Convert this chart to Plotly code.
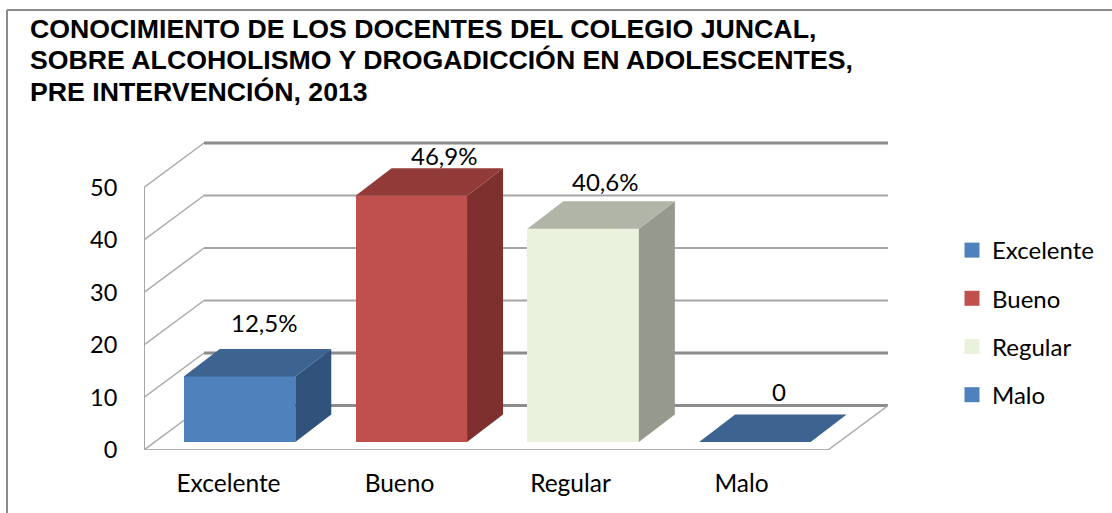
import plotly.graph_objects as go

# ---- data ----
categories = ["Excelente", "Bueno", "Regular", "Malo"]
values = [12.5, 46.9, 40.6, 0]
value_labels = ["12,5%", "46,9%", "40,6%", "0"]
y_ticks = [0, 10, 20, 30, 40, 50]
title_lines = [
    "CONOCIMIENTO DE LOS DOCENTES DEL COLEGIO JUNCAL,",
    "SOBRE ALCOHOLISMO Y DROGADICCIÓN EN ADOLESCENTES,",
    "PRE INTERVENCIÓN, 2013",
]

# ---- styles ----
front_colors = ["#4F81BD", "#C0504D", "#EAF1DD", "#4F81BD"]
top_colors = ["#3D6391", "#923A38", "#B1B5A7", "#3D6391"]
side_colors = ["#31527A", "#7D302E", "#969A8E", "#31527A"]
grid_widths = [3, 3, 2, 2, 2, 3]
grid_colors = ["#8C8C8C", "#8C8C8C", "#A6A6A6", "#A6A6A6", "#A6A6A6", "#8C8C8C"]
text_font = "Lato"
text_size = 24

# ---- page geometry (pixels) ----
W, H = 1112, 513
L, R, T, B = 144, 888, 120, 450
PX_PER_CAT = 171.8
PX_PER_VAL = 5.25
CAT0_PX = 239.5
x_lo = (L - CAT0_PX) / PX_PER_CAT
x_hi = (R - CAT0_PX) / PX_PER_CAT
y_hi = (B - T) / PX_PER_VAL

# 3-D offsets, converted to data units
wall_dx = 60 / PX_PER_CAT
wall_dy = 44.5 / PX_PER_VAL
bar_dx = 36 / PX_PER_CAT
bar_dy = 27.5 / PX_PER_VAL
bar_width = 111.5 / PX_PER_CAT
floor_lift = 8 / PX_PER_VAL
floor_shift = 11 / PX_PER_CAT
label_pitch = 171 / PX_PER_CAT
floor_right = x_hi - wall_dx

positions = list(range(len(categories)))


def path(points):
    return "M" + " L".join(f"{x},{y}" for x, y in points)


def data_line(points, color, width):
    return dict(type="path", xref="x", yref="y", path=path(points), layer="below",
                line=dict(color=color, width=width))


shapes = []
# walls: a receding line and a back line per tick
for tick, lw, lc in zip(y_ticks, grid_widths, grid_colors):
    shapes.append(data_line([(x_lo, tick), (x_lo + wall_dx, tick + wall_dy)], "#ABABAB", 1.5))
    shapes.append(data_line([(x_lo + wall_dx, tick + wall_dy), (x_hi, tick + wall_dy)], lc, lw))
# left wall edge, floor front edge, floor right edge
shapes.append(data_line([(x_lo, y_ticks[0]), (x_lo, y_ticks[-1])], "#A6A6A6", 2))
shapes.append(data_line([(x_lo, 0), (floor_right, 0)], "#B0B0B0", 2))
shapes.append(data_line([(floor_right, 0), (x_hi, wall_dy)], "#ABABAB", 1.5))


# outer chart frame: top and left edges, in paper units
def paper_x(px):
    return (px - L) / (R - L)


def paper_y(px):
    return (B - px) / (B - T)


frame_style = dict(color="#8C8C8C", width=2)
shapes.append(dict(type="line", xref="paper", yref="paper", layer="below", line=frame_style,
                   x0=paper_x(7), x1=paper_x(W), y0=paper_y(10), y1=paper_y(10)))
shapes.append(dict(type="line", xref="paper", yref="paper", layer="below", line=frame_style,
                   x0=paper_x(7), x1=paper_x(7), y0=paper_y(10), y1=paper_y(H)))

fig = go.Figure()

# front faces
fig.add_trace(go.Bar(
    x=positions, y=values, base=[floor_lift] * len(values), width=bar_width,
    marker=dict(color=front_colors, line=dict(width=0)),
    showlegend=False, hoverinfo="skip",
))

# top and side faces, derived from the same values
for i, v in enumerate(values):
    x0 = positions[i] - bar_width / 2
    x1 = positions[i] + bar_width / 2
    y0 = floor_lift
    y1 = floor_lift + v
    if v > 0:
        fig.add_trace(go.Scatter(
            x=[x1, x1 + bar_dx, x1 + bar_dx, x1, x1],
            y=[y0, y0 + bar_dy, y1 + bar_dy, y1, y0],
            mode="lines", fill="toself", fillcolor=side_colors[i],
            line=dict(width=0, color=side_colors[i]),
            showlegend=False, hoverinfo="skip",
        ))
    fig.add_trace(go.Scatter(
        x=[x0, x0 + bar_dx, x1 + bar_dx, x1, x0],
        y=[y1, y1 + bar_dy, y1 + bar_dy, y1, y1],
        mode="lines", fill="toself", fillcolor=top_colors[i],
        line=dict(width=0, color=top_colors[i]),
        showlegend=False, hoverinfo="skip",
    ))

# legend entries
for i, name in enumerate(categories):
    fig.add_trace(go.Scatter(
        x=[None], y=[None], mode="markers", name=name, legendgroup=name,
        marker=dict(symbol="square", size=15, color=front_colors[i]),
    ))

# value labels, anchored to each bar's top face
label_shift = [(6, 26), (15, 13), (4, 20), (6, 23)]
annotations = []
for i, (txt, v) in enumerate(zip(value_labels, values)):
    annotations.append(dict(
        x=positions[i] + bar_dx / 2, y=floor_lift + v + bar_dy,
        xref="x", yref="y", text=txt, showarrow=False,
        xanchor="center", yanchor="middle",
        xshift=label_shift[i][0], yshift=label_shift[i][1],
        font=dict(family=text_font, size=text_size, color="#000000"),
    ))

fig.update_layout(
    width=W, height=H,
    margin=dict(l=L, r=W - R, t=T, b=H - B, pad=0, autoexpand=False),
    paper_bgcolor="#FFFFFF", plot_bgcolor="rgba(0,0,0,0)",
    bargap=0,
    title=dict(
        text="<br>".join(f'<span style="font-size:26.7px"><b>{t}</b></span>' for t in title_lines),
        x=30 / W, xref="container", xanchor="left",
        y=1 - 38 / H, yref="container", yanchor="top",
        font=dict(family="Liberation Sans", size=24.2, color="#000000"),
    ),
    xaxis=dict(
        range=[x_lo, x_hi], tickmode="array",
        tickvals=[p * label_pitch - floor_shift for p in positions], ticktext=categories,
        showgrid=False, zeroline=False, showline=False,
        ticks="outside", ticklen=12, tickcolor="rgba(0,0,0,0)",
        tickfont=dict(family=text_font, size=24.5, color="#000000"),
    ),
    yaxis=dict(
        range=[0, y_hi], tickmode="array", tickvals=y_ticks,
        showgrid=False, zeroline=False, showline=False,
        ticks="outside", ticklen=21, tickcolor="rgba(0,0,0,0)",
        tickfont=dict(family=text_font, size=23.5, color="#000000"),
    ),
    legend=dict(
        x=(952 - L) / (R - L), xanchor="left",
        y=(B - 228) / (B - T), yanchor="top",
        tracegroupgap=14, itemsizing="trace", traceorder="grouped",
        font=dict(family=text_font, size=text_size, color="#000000"),
        bgcolor="rgba(0,0,0,0)",
    ),
    shapes=shapes, annotations=annotations,
)

fig.write_html("out.html", config={"displayModeBar": False},
               post_script="document.body.style.margin='0';")
